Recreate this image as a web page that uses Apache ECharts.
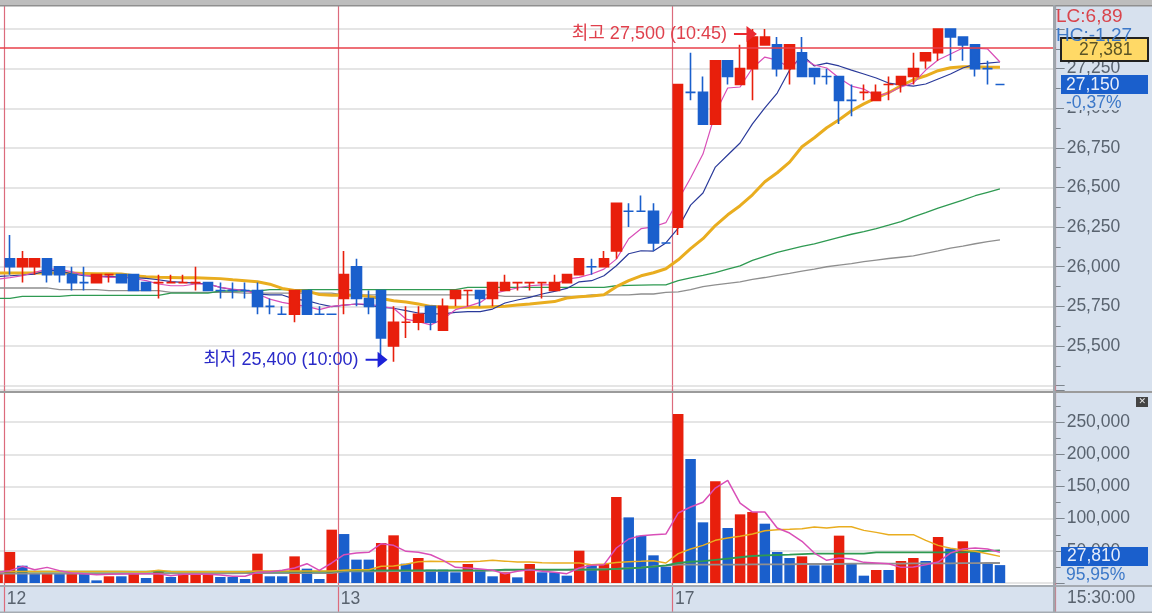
<!DOCTYPE html>
<html><head><meta charset="utf-8">
<style>html,body{margin:0;padding:0;background:#d7e1ee}#c{width:1152px;height:613px}</style>
<script src="https://cdn.jsdelivr.net/npm/echarts@6/dist/echarts.min.js"></script>
</head><body><div id="c"></div>
<script>
const totalBands = 86;
const dayStartBars = [1, 28, 55];
const dayNames = ['12', '13', '17'];
const priceTicksShown = [25500,25750,26000,26250,26500,26750,27000,27250];
const volumeTicksShown = [50000,100000,150000,200000,250000];
const currentLine = 27381;

const opens = [null,26050,26000,26000,26050,26000,25950,25900,25900,25950,25950,25950,25900,25900,25900,25900,25900,25900,25850,25850,25850,25850,25750,25700,25700,25850,25700,25700,
25800,26000,25800,25850,25500,25650,25650,25750,25600,25800,25850,25850,25800,25850,25900,25900,25900,25850,25900,25950,26000,26000,26100,26350,26350,26350,26150,
26250,27100,27100,26900,27300,27150,27250,27400,27400,27250,27350,27250,27200,27200,27050,27100,27050,27150,27150,27200,27300,27350,27500,27450,27400,27250,27150];
const closes = [null,26000,26050,26050,25950,25950,25900,25900,25950,25950,25900,25850,25850,25900,25900,25900,25900,25850,25850,25850,25850,25750,25750,25700,25850,25700,25700,25700,
25950,25800,25750,25550,25650,25650,25700,25650,25750,25850,25850,25800,25900,25900,25900,25900,25900,25900,25950,26050,26000,26050,26400,26350,26350,26150,26150,
27150,27100,26900,27300,27200,27250,27450,27450,27250,27400,27200,27200,27200,27050,27050,27100,27100,27150,27200,27250,27350,27500,27450,27400,27250,27250,27150];
const lows = [null,25950,25900,25950,25900,25900,25850,25850,25900,25900,25900,25850,25850,25800,25900,25900,25850,25850,25800,25800,25800,25700,25700,25700,25650,25700,25700,25700,
25700,25750,25700,25400,25400,25550,25600,25600,25600,25750,25750,25750,25750,25850,25850,25850,25800,25850,25900,25950,25950,26000,26050,26250,26350,26100,26150,
26200,27050,26900,26900,27150,27150,27050,27400,27200,27150,27200,27150,27150,26900,26950,27050,27050,27050,27100,27150,27250,27300,27300,27300,27200,27150,27150];
const highs = [null,26200,26100,26050,26050,26000,26000,26000,25950,25950,25950,25950,25900,25950,25950,25950,26000,25900,25900,25900,25900,25900,25800,25750,25850,25850,25750,25700,
26100,26050,25850,25850,25750,25750,25750,25750,25800,25850,25850,25850,25900,25950,25900,25900,25900,25950,25950,26050,26050,26100,26400,26400,26450,26400,26150,
27150,27350,27200,27300,27300,27400,27500,27500,27450,27400,27450,27250,27250,27200,27150,27150,27150,27200,27200,27350,27350,27500,27500,27450,27400,27300,27150];
const redDojiBars = [9,13,14,15,16,33,38,42,43,44,70,72];

const maPink = [25922,25931,25943,25964,25985,25985,25968,25947,25939,25933,25933,25926,25912,25891,25880,25880,25891,25891,25870,25859,25849,25828,25796,25775,25761,25750,25729,25750,
25758,25765,25765,25750,25738,25670,25654,25633,25670,25729,25750,25775,25828,25849,25866,25880,25885,25887,25922,25933,25954,25985,26048,26177,26240,26252,26278,
26421,26560,26711,26970,27128,27134,27254,27323,27304,27254,27317,27273,27254,27191,27140,27121,27077,27096,27134,27159,27241,27304,27342,27380,27380,27374,27292];
const maNavy = [25939,25943,25948,25954,25975,25975,25954,25943,25939,25939,25935,25931,25927,25918,25906,25901,25897,25891,25870,25855,25853,25828,25822,25822,25796,25786,25765,25748,
25758,25765,25758,25744,25738,25723,25708,25702,25702,25712,25717,25717,25733,25771,25790,25807,25828,25845,25863,25905,25912,25943,26006,26082,26101,26099,26150,
26244,26389,26465,26629,26705,26781,26901,27002,27096,27241,27336,27267,27285,27267,27241,27216,27191,27159,27147,27140,27153,27185,27216,27254,27279,27285,27292];
const maOrange = [25960,25960,25960,25960,25960,25960,25960,25958,25955,25955,25954,25943,25937,25933,25932,25930,25930,25928,25925,25918,25912,25905,25890,25863,25850,25846,25825,25820,
25820,25820,25813,25800,25785,25777,25765,25750,25744,25744,25744,25744,25748,25750,25758,25765,25773,25780,25803,25811,25815,25823,25874,25912,25943,25962,25987,
26044,26114,26177,26260,26328,26385,26454,26536,26593,26660,26757,26814,26877,26927,26984,27028,27066,27098,27142,27180,27205,27237,27256,27262,27262,27259,27259];
const maGreen = [25800,25800,25813,25813,25813,25813,25819,25819,25819,25819,25819,25819,25819,25819,25834,25834,25834,25834,25847,25847,25847,25847,25855,25855,25855,25855,25855,25855,
25855,25855,25855,25855,25855,25855,25855,25855,25855,25855,25870,25870,25870,25870,25870,25870,25870,25870,25870,25870,25870,25870,25880,25882,25884,25885,25886,
25912,25930,25945,25963,25985,26006,26040,26065,26090,26110,26128,26145,26165,26185,26205,26222,26240,26262,26285,26315,26342,26370,26395,26420,26448,26470,26492];
const maGrey = [25866,25866,25866,25866,25866,25855,25855,25855,25855,25849,25849,25849,25849,25849,25838,25838,25838,25838,25838,25838,25834,25834,25834,25834,25834,25834,25834,25834,
25822,25822,25822,25822,25822,25822,25822,25822,25822,25822,25822,25822,25822,25813,25813,25813,25813,25813,25813,25813,25822,25822,25822,25822,25828,25828,25838,
25842,25855,25874,25885,25895,25905,25920,25932,25945,25958,25972,25985,26000,26010,26020,26032,26042,26052,26060,26068,26085,26100,26118,26130,26145,26158,26170];

const volumes = [14500,48200,26900,14500,14500,14500,14500,14500,4100,10400,10400,14500,7800,19700,9300,14500,14500,14500,9300,9300,6200,45600,10400,10400,41400,22300,6200,82900,
76100,36300,36300,62200,74100,30000,38900,20700,20700,16600,29500,20700,10400,16600,8800,29500,16600,16600,11400,50200,27500,29500,133600,102000,73600,43000,25300,
262600,192700,94300,158000,85500,106700,110300,92200,48200,38900,41400,27500,27500,73600,31100,11400,20200,20200,34200,38900,34200,71500,53400,64800,50800,30000,27810];
const redVolumeBars = [0,1,4,6,9,11,13,15,16,17,21,24,27,31,32,34,38,41,43,47,49,50,55,58,60,61,65,68,71,73,74,76,78];

const volPink = [16600,19200,25900,20700,24300,19200,15500,14500,13000,13500,14000,14500,14500,14500,11400,13500,13500,13500,12400,10400,10400,16600,17600,19700,23300,30000,19700,31100,
44000,46600,47700,61100,58500,49200,47700,44000,35200,24300,23300,21800,19700,14500,18100,20700,18100,16600,14500,23300,27500,28500,54400,68400,73600,75100,76100,
108800,118100,125400,147600,159500,124300,110300,110300,85500,77700,64800,46600,35200,38900,37300,32100,31100,30000,24300,24900,28500,32600,46600,52800,54400,52800,47700];
const volOrange = [18000,18000,18000,18000,18000,18000,18000,18000,18000,18000,18000,17600,17600,19700,18000,17600,17600,17600,17600,17600,17600,18500,18500,18500,18500,18500,18500,18500,
20000,20700,20700,25900,26500,29000,33000,33700,33500,33200,33200,34000,35200,34000,32600,32600,31500,31100,31100,31100,28500,29500,32000,33000,33700,34500,31100,
45600,52800,58500,66300,69900,72500,76100,81300,82900,83400,84400,87000,85500,87500,87500,81800,78700,75100,75100,75100,66300,58500,53900,51300,49200,45600,41400];
const volGreen = [17600,17600,17600,17600,17600,17600,17600,17600,17600,17600,17600,17600,17600,17600,17600,17600,17600,17600,17600,17600,17600,17600,17600,17600,17600,17600,17600,17600,
19700,19700,19700,19700,19700,19700,19700,19700,19700,19700,19700,19700,19700,20700,20700,20700,20700,20700,20700,20700,20700,20700,21800,22800,24000,25500,27500,
31100,33000,34000,36000,38000,40000,42000,43000,43500,44000,45000,45600,45600,45600,45600,45600,47700,47700,47700,47700,47700,47700,47700,47700,49000,50000,50800];
const volGrey = [14500,14500,14500,14500,14500,14500,14500,14500,14500,14500,14500,14500,14500,14500,15000,15000,15000,15000,15000,15000,15500,15500,15500,15500,15500,15500,15500,15500,
18100,18100,18100,18100,18500,18500,18500,18500,19000,19000,19000,19000,19500,19500,20000,20000,20000,20500,20500,21000,21000,21500,22000,23000,24000,26000,27000,
28500,28500,28500,28500,28500,28500,29000,29000,29000,29000,29500,29500,29500,29500,30000,30000,30000,30000,30000,30500,30500,30500,30500,31000,31000,31100,31100];

const RED='#e81f0c', BLUE='#1a5fcc', DAYLINE='#dc6b7c', GRID='#dddddd', AXISTXT='#59636f', EDGE='#9aa0a6', PANEL='#d7e1ee';
const FONT='"Liberation Sans","Noto Sans CJK KR",sans-serif';
const KFONT='"Liberation Sans","Noto Sans CJK KR",sans-serif';

const categories = Array.from({length: totalBands}, (_, i) => {
  const k = dayStartBars.indexOf(i);
  return k >= 0 ? dayNames[k] : '';
});
const isDayStart = idx => dayStartBars.includes(idx);
const candleData = opens.map((o, i) => {
  if (o === null) return ['-','-','-','-'];
  const item = {value: [o, closes[i], lows[i], highs[i]]};
  if (o === closes[i]) {
    item.itemStyle = {borderColorDoji: redDojiBars.includes(i) ? RED : BLUE};
  }
  return item;
});
const volumeData = volumes.map((v, i) => ({value: v, itemStyle: {color: redVolumeBars.includes(i) ? RED : BLUE}}));
const fmt = v => String(v).replace(/\B(?=(\d{3})+$)/g, ',');
const ln = (xi, yi, data, color, width, z) => ({type:'line', xAxisIndex:xi, yAxisIndex:yi, data, symbol:'none', z, silent:true, animation:false,
  lineStyle:{color, width}, itemStyle:{color}});

const arrowRight = 'path://M0,7 L12,7 L12,0 L22,8 L12,16 L12,9 L0,9 Z';

const chart = echarts.init(document.getElementById('c'), null, {renderer:'canvas'});
const txt = (x,y,text,fill,extra) => ({type:'text', x, y, z:110, silent:true,
  style:Object.assign({text, fill, font:'17.5px '+FONT, textVerticalAlign:'middle'}, extra||{})});
const rect = (x,y,width,height,fill,z,stroke,lw) => ({type:'rect', silent:true, z, shape:{x,y,width,height},
  style:{fill, stroke:stroke||null, lineWidth:lw||0}});

chart.setOption({
  animation:false,
  backgroundColor:PANEL,
  grid:[
    {left:-8.6, top:-10.6, width:1064.25, height:396.2, show:false, outerBoundsMode:'none', containLabel:false},
    {left:-8.6, top:390, width:1064.25, height:193, show:false, outerBoundsMode:'none', containLabel:false}
  ],
  xAxis:[
    {type:'category', gridIndex:0, data:categories, boundaryGap:true,
     axisLine:{show:false}, axisLabel:{show:false},
     axisTick:{show:true, interval:isDayStart, length:7, lineStyle:{color:DAYLINE, width:1.2}},
     splitLine:{show:true, interval:isDayStart, lineStyle:{color:DAYLINE, width:1.2}}},
    {type:'category', gridIndex:1, data:categories, boundaryGap:true,
     axisLine:{show:false},
     axisTick:{show:true, interval:isDayStart, length:31, lineStyle:{color:DAYLINE, width:1.2}},
     axisLabel:{show:true, interval:isDayStart, color:AXISTXT, fontFamily:FONT, fontSize:17.5, margin:7, padding:[0,0,0,13], hideOverlap:false},
     splitLine:{show:true, interval:isDayStart, lineStyle:{color:DAYLINE, width:1.2}}}
  ],
  yAxis:[
    {type:'value', gridIndex:0, position:'right', min:25250, max:27750, interval:250, scale:true,
     axisLine:{show:true, lineStyle:{color:EDGE}},
     axisTick:{show:true, length:9, lineStyle:{color:'#7d858d'}},
     minorTick:{show:true, splitNumber:2, length:5, lineStyle:{color:'#7d858d'}},
     axisLabel:{color:AXISTXT, fontFamily:FONT, fontSize:17.5, margin:11, align:'left',
       formatter:v => priceTicksShown.includes(v) ? fmt(v) : ''},
     splitLine:{show:true, lineStyle:{color:GRID, width:1.5}}},
    {type:'value', gridIndex:1, position:'right', min:0, max:300000, interval:50000,
     axisLine:{show:true, lineStyle:{color:EDGE}},
     axisTick:{show:true, length:9, lineStyle:{color:'#7d858d'}},
     minorTick:{show:true, splitNumber:2, length:5, lineStyle:{color:'#7d858d'}},
     axisLabel:{color:AXISTXT, fontFamily:FONT, fontSize:17.5, margin:11, align:'left',
       formatter:v => volumeTicksShown.includes(v) ? fmt(v) : ''},
     splitLine:{show:true, lineStyle:{color:GRID, width:1.5}}}
  ],
  series:[
    ln(0,0,maGrey,'#8f8f8f',1.3,3),
    ln(0,0,maGreen,'#2f9a52',1.3,3),
    ln(0,0,maOrange,'#e9ad1f',3,3),
    ln(0,0,maNavy,'#2a3a9a',1.2,4),
    ln(0,0,maPink,'#d94fb8',1.2,4),
    {type:'candlestick', xAxisIndex:0, yAxisIndex:0, data:candleData, barWidth:10, z:5, silent:true, animation:false,
     itemStyle:{color:RED, color0:BLUE, borderColor:RED, borderColor0:BLUE, borderWidth:1.6},
     markLine:{silent:true, symbol:'none', animation:false, z:6, label:{show:false},
       lineStyle:{color:'#e8404a', width:1.5, type:'solid'}, data:[{yAxis:currentLine}]},
     markPoint:{silent:true, animation:false, z:7, data:[
       {coord:[61,27500], symbol:arrowRight, symbolSize:[23,16], symbolOffset:[-7,5],
        itemStyle:{color:'#ea2a30'},
        label:{show:true, position:'left', distance:7, formatter:'최고 27,500 (10:45)', color:'#e0404c', fontFamily:KFONT, fontSize:18}},
       {coord:[32,25400], symbol:arrowRight, symbolSize:[22,16], symbolOffset:[-17,-2],
        itemStyle:{color:'#1c22d8'},
        label:{show:true, position:'left', distance:7, formatter:'최저 25,400 (10:00)', color:'#2a2ac8', fontFamily:KFONT, fontSize:18}}
     ]}},
    {type:'bar', xAxisIndex:1, yAxisIndex:1, data:volumeData, barWidth:10.5, z:3, silent:true, animation:false},
    ln(1,1,volGrey,'#8f8f8f',1.8,4),
    ln(1,1,volGreen,'#2f9a52',1.8,4),
    ln(1,1,volOrange,'#e9ad1f',1.5,5),
    ln(1,1,volPink,'#d94fb8',1.5,6)
  ],
  graphic:{elements:[
    rect(0,6,1054,385,'#ffffff',-5),
    rect(0,392,1054,193,'#ffffff',-5),
    rect(0,0,1152,5,'#bdbdbd',90),
    rect(0,5,1152,1.5,'#8f8f8f',90),
    rect(0,391,1152,2,'#9b9b9b',90),
    rect(0,585,1152,2,'#a5abb2',90),
    rect(1053,5,2.5,608,'#a0a6ad',90),
    rect(0,611.5,1152,1.5,'#a5abb2',90),
    txt(1056,17,'LC:6,89','#d9444c',{font:'19px '+FONT}),
    txt(1056,36,'HC:-1,27','#3c78c8',{font:'19px '+FONT}),
    rect(1061,38,87,23,'#ffd966',100,'#222222',2),
    txt(1079,50,'27,381','#5b5426'),
    rect(1061,75,87,19,BLUE,100),
    txt(1066,85,'27,150','#e8eefa'),
    rect(1064,95,62,15,PANEL,100),
    txt(1066,103,'-0,37%','#3c78c8'),
    rect(1061,547,87,19,BLUE,100),
    txt(1067,556,'27,810','#e8eefa'),
    rect(1064,566,62,17,PANEL,100),
    txt(1066,575,'95,95%','#3c78c8'),
    txt(1067,598,'15:30:00',AXISTXT),
    rect(1136,397,12,10,'#444444',100),
    txt(1138.5,402,'✕','#e8e8e8',{font:'9px "DejaVu Sans"'})
  ]}
});
</script></body></html>
